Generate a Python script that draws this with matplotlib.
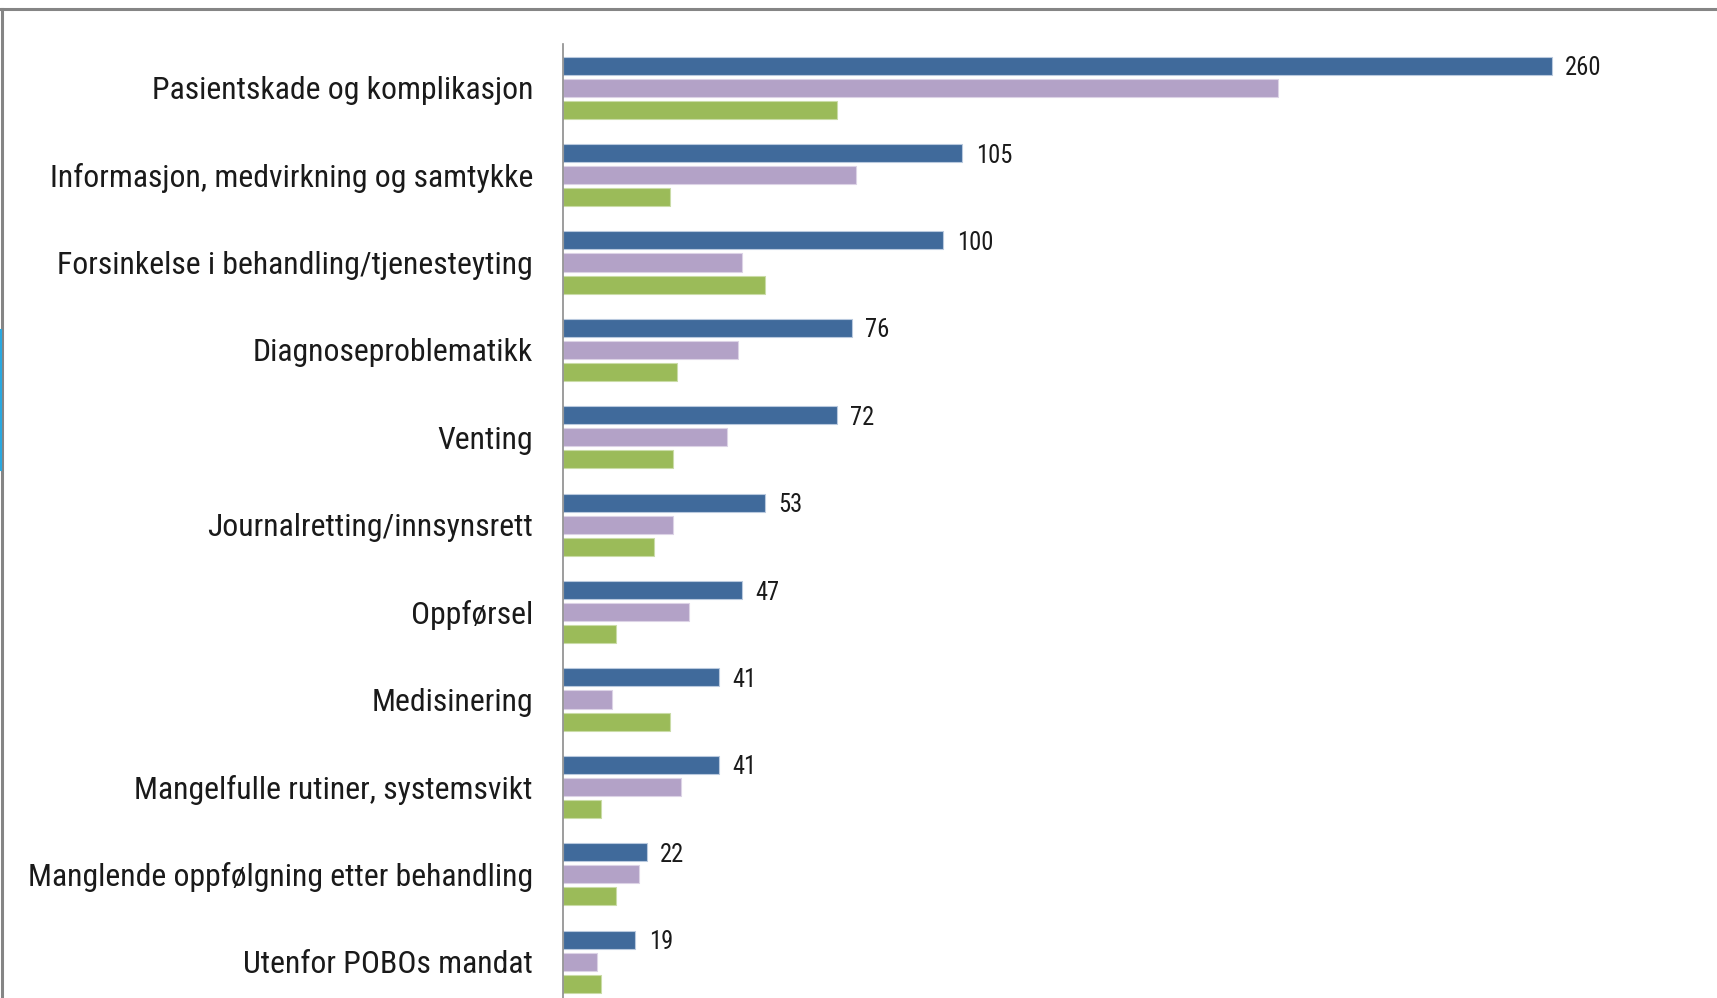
import matplotlib
matplotlib.use("Agg")
import matplotlib.pyplot as plt
from matplotlib import font_manager
from matplotlib.font_manager import FontProperties
from matplotlib.lines import Line2D
import numpy as np

categories = [
    "Pasientskade og komplikasjon",
    "Informasjon, medvirkning og samtykke",
    "Forsinkelse i behandling/tjenesteyting",
    "Diagnoseproblematikk",
    "Venting",
    "Journalretting/innsynsrett",
    "Oppførsel",
    "Medisinering",
    "Mangelfulle rutiner, systemsvikt",
    "Manglende oppfølgning etter behandling",
    "Utenfor POBOs mandat",
]
series_blue = [260, 105, 100, 76, 72, 53, 47, 41, 41, 22, 19]
series_purple = [188, 77, 47, 46, 43, 29, 33, 13, 31, 20, 9]
series_green = [72, 28, 53, 30, 29, 24, 14, 28, 10, 14, 10]


def pick_font():
    narrow = []
    for f in font_manager.fontManager.ttflist:
        st = f.stretch
        is_narrow = (st in ("condensed", "semi-condensed", "extra-condensed", "ultra-condensed")
                     or (isinstance(st, (int, float)) and st < 500)
                     or "Narrow" in f.name or "Condensed" in f.name)
        if is_narrow and f.style == "normal" and f.weight in (400, "normal", "regular"):
            narrow.append(f)
    pref = ["Liberation Sans Narrow", "Noto Sans", "Open Sans", "Roboto", "DejaVu Sans"]
    for p in pref:
        for f in narrow:
            if f.name.startswith(p) or p in f.name:
                if "Mono" not in f.fname and "Serif" not in f.fname:
                    return FontProperties(fname=f.fname)
    return FontProperties(family="Liberation Sans")


W, H = 1717, 998
fig = plt.figure(figsize=(W / 100, H / 100), dpi=100)
fig.patch.set_facecolor("white")
renderer = fig.canvas.get_renderer()

base = pick_font()


def fit_size(text, target_px, size0=20):
    fp = base.copy()
    fp.set_size(size0)
    t = fig.text(0, 0, text, fontproperties=fp)
    w = t.get_window_extent(renderer).width
    t.remove()
    return size0 * target_px / w


lab_size = fit_size(categories[0], 382)
val_size = fit_size("260", 33) * 1.1
lab_fp = base.copy(); lab_fp.set_size(lab_size)
val_fp = base.copy(); val_fp.set_size(val_size)

ax_left = 563 / W
ax_top = 1 - 44 / H
ax_h = 11 * 87.4 / H
ax = fig.add_axes([ax_left, ax_top - ax_h, 1 - ax_left, ax_h])

y = np.arange(len(categories))
step = 0.252
bh = 0.206
ax.barh(y - step, series_blue, height=bh, color="#406A9B", edgecolor="#B9C9DE", linewidth=0.8)
ax.barh(y, series_purple, height=bh, color="#B3A2C7", edgecolor="#DCD3E6", linewidth=0.8)
ax.barh(y + step, series_green, height=bh, color="#9BBB59", edgecolor="#CADCA7", linewidth=0.8)

for yi, v in zip(y, series_blue):
    ax.text(v + 3.5, yi - step, str(v), va="center_baseline", ha="left",
            fontproperties=val_fp, color="#1a1a1a")

ax.set_xlim(0, (W - 563) / 3.804)
ax.set_ylim(len(categories) - 0.5, -0.5)
ax.set_yticks(y)
ax.set_yticklabels(categories, fontproperties=lab_fp, color="#1a1a1a")
ax.tick_params(axis="y", length=0, pad=30 * 0.72)
ax.set_xticks([])
for s in ["top", "right", "bottom"]:
    ax.spines[s].set_visible(False)
ax.spines["left"].set_color("#8C8C8C")
ax.spines["left"].set_linewidth(1.2)

# frame of the original slide
fig.add_artist(Line2D([0, 1], [1 - 9 / H, 1 - 9 / H], color="#858585", lw=2.2, transform=fig.transFigure))
fig.add_artist(Line2D([2 / W, 2 / W], [0, 1 - 9 / H], color="#858585", lw=2.2, transform=fig.transFigure))
fig.add_artist(Line2D([0.6 / W, 0.6 / W], [1 - 330 / H, 1 - 470 / H], color="#29A8E0", lw=1.5, transform=fig.transFigure))

fig.savefig("out.png", dpi=100)
